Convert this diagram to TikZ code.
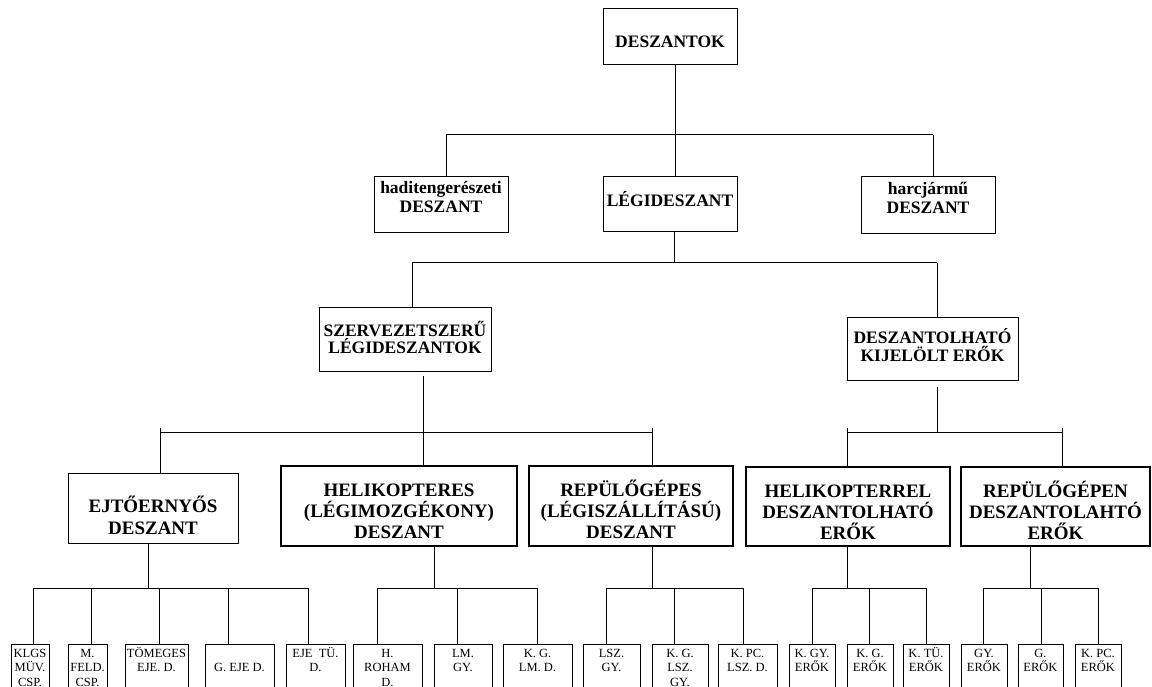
\documentclass[tikz,border=0pt]{standalone}
\usepackage{fontspec}
\setmainfont{Liberation Serif}
\newcommand{\padtop}[1]{\rule{0pt}{#1}}
\newcommand{\padbot}[1]{\rule[-#1]{0pt}{#1}}
\newcommand{\leafstrut}{\rule{0pt}{10.5pt}}

\begin{document}
\begin{tikzpicture}[x=1pt, y=-1pt, line width=1pt,
  box/.style={draw, align=center, inner sep=0pt,
    font=\bfseries\fontsize{17.5}{17.5}\selectfont},
  midbox/.style={box, font=\bfseries\fontsize{19}{22}\selectfont},
  bigbox/.style={box, line width=2.2pt, font=\bfseries\fontsize{19}{21}\selectfont},
  leaf/.style={draw, align=center, anchor=north, inner xsep=0pt, inner ysep=0pt,
    minimum height=44pt, font=\fontsize{12.5}{14.5}\selectfont}]
 \useasboundingbox (0,0) rectangle (1152,687);
 \clip (0,0) rectangle (1152,687);

 % levels 1-3
 \node (deszantok) [box, minimum width=134pt, minimum height=56pt] at (670,37) {\padtop{22pt}DESZANTOK};
 \node (hadi) [box, minimum width=134pt, minimum height=56pt, font=\bfseries\fontsize{17.5}{19}\selectfont]
   at (441,205) {\padtop{14pt}haditengerészeti\\DESZANT\padbot{17pt}};
 \node (legi) [box, minimum width=134pt, minimum height=55pt] at (670,204.5) {\padtop{16pt}LÉGIDESZANT\padbot{11pt}};
 \node (harc) [box, minimum width=134pt, minimum height=57pt, font=\bfseries\fontsize{17.5}{19}\selectfont]
   at (928,205.5) {\padtop{14pt}harcjármű\\DESZANT\padbot{17pt}};
 \node (szerv) [box, minimum width=172pt, minimum height=63pt] at (405,339.5) {\padtop{15.5pt}SZERVEZETSZERŰ\\LÉGIDESZANTOK\padbot{5pt}};
 \node (deszkij) [box, minimum width=171pt, minimum height=63pt, font=\bfseries\fontsize{17.5}{17.7}\selectfont]
   at (932.5,348.5) {\padtop{15.5pt}DESZANTOLHATÓ\\KIJELÖLT ERŐK\padbot{7pt}};

 % level 4
 \node (ejto) [midbox, minimum width=170pt, minimum height=70pt] at (153,508) {\padtop{32pt}EJTŐERNYŐS\\DESZANT};
 \node (heli) [bigbox, minimum width=236pt, minimum height=80pt] at (399,506) {\padtop{24pt}HELIKOPTERES\\(LÉGIMOZGÉKONY)\\DESZANT};
 \node (repu) [bigbox, minimum width=204pt, minimum height=80pt] at (631,506) {\padtop{24pt}REPÜLŐGÉPES\\(LÉGISZÁLLÍTÁSÚ)\\DESZANT};
 \node (helier) [bigbox, minimum width=204pt, minimum height=79pt] at (848,506.5) {\padtop{24pt}HELIKOPTERREL\\DESZANTOLHATÓ\\ERŐK};
 \node (repuen) [bigbox, minimum width=189pt, minimum height=79pt] at (1055.5,506.5) {\padtop{24pt}REPÜLŐGÉPEN\\DESZANTOLAHTÓ\\ERŐK};

 % level 5
 \node (kl) [leaf, minimum width=38pt] at (30,644) {\leafstrut KLGS\\MÜV.\\CSP.};
 \node (mf) [leaf, minimum width=39pt] at (87.5,644) {\leafstrut M.\\FELD.\\CSP.};
 \node (tom) [leaf, minimum width=63pt] at (156.5,644) {\leafstrut TÖMEGES\\EJE. D.\\\mbox{}};
 \node (geje) [leaf, minimum width=69pt] at (239.5,644) {\leafstrut\\G. EJE D.\\\mbox{}};
 \node (ejetu) [leaf, minimum width=59pt] at (315.5,644) {\leafstrut EJE~~TÜ.\\D.\\\mbox{}};
 \node (hroham) [leaf, minimum width=69pt] at (387.5,644) {\leafstrut H.\\ROHAM\\D.};
 \node (lmgy) [leaf, minimum width=58pt] at (463,644) {\leafstrut LM.\\GY.\\\mbox{}};
 \node (kglmd) [leaf, minimum width=69pt] at (537.5,644) {\leafstrut K. G.\\LM. D.\\\mbox{}};
 \node (lszgy) [leaf, minimum width=57pt] at (611.5,644) {\leafstrut LSZ.\\GY.\\\mbox{}};
 \node (kglszgy) [leaf, minimum width=56pt] at (680,644) {\leafstrut K. G.\\LSZ.\\GY.};
 \node (kpclszd) [leaf, minimum width=59pt] at (747.5,644) {\leafstrut K. PC.\\LSZ. D.\\\mbox{}};
 \node (kgy) [leaf, minimum width=46pt] at (812,644) {\leafstrut K. GY.\\ERŐK\\\mbox{}};
 \node (kg) [leaf, minimum width=46pt] at (870,644) {\leafstrut K. G.\\ERŐK\\\mbox{}};
 \node (ktu) [leaf, minimum width=46pt] at (926,644) {\leafstrut K. TÜ.\\ERŐK\\\mbox{}};
 \node (gy) [leaf, minimum width=46pt] at (984,644) {\leafstrut GY.\\ERŐK\\\mbox{}};
 \node (g) [leaf, minimum width=45pt] at (1040.5,644) {\leafstrut G.\\ERŐK\\\mbox{}};
 \node (kpc) [leaf, minimum width=46pt] at (1098,644) {\leafstrut K. PC.\\ERŐK\\\mbox{}};

 % DESZANTOK
 \coordinate (s-deszantok) at (675,135);
 \draw (deszantok.south -| s-deszantok) -- (s-deszantok);
 \foreach \n/\x in {hadi/446, legi/675, harc/933} {
   \coordinate (j-\n) at (\x,135);
   \draw (j-\n) -- (\n.north -| j-\n);
 }
 \draw (j-hadi) -- (j-harc);

 % LEGIDESZANT
 \coordinate (s-legi) at (674,263);
 \draw (legi.south -| s-legi) -- (s-legi);
 \foreach \n/\x in {szerv/412, deszkij/937} {
   \coordinate (j-\n) at (\x,263);
   \draw (j-\n) -- (\n.north -| j-\n);
 }
 \draw (j-szerv) -- (j-deszkij);

 % SZERVEZETSZERU
 \coordinate (s-szerv) at (423,432);
 \draw ([yshift=-4pt]szerv.south -| s-szerv) -- (s-szerv);
 \foreach \n/\x in {ejto/160, heli/423, repu/652} {
   \coordinate (j-\n) at (\x,432);
   \draw ([yshift=4pt]j-\n) -- (\n.north -| j-\n);
 }
 \draw (j-ejto) -- (j-repu);

 % DESZANTOLHATO
 \coordinate (s-deszkij) at (937,432);
 \draw ([yshift=-6pt]deszkij.south -| s-deszkij) -- (s-deszkij);
 \foreach \n/\x in {helier/847, repuen/1062} {
   \coordinate (j-\n) at (\x,432);
   \draw ([yshift=4pt]j-\n) -- (\n.north -| j-\n);
 }
 \draw (j-helier) -- (j-repuen);

 % level 4 -> level 5
 \foreach \p/\sx/\first/\last/\list in {
     ejto/148/kl/ejetu/{kl/33, mf/91, tom/159, geje/228, ejetu/308},
     heli/434/hroham/kglmd/{hroham/377, lmgy/457, kglmd/537},
     repu/652/lszgy/kpclszd/{lszgy/606, kglszgy/674, kpclszd/743},
     helier/847/kgy/ktu/{kgy/812, kg/869, ktu/926},
     repuen/1030/gy/kpc/{gy/983, g/1041, kpc/1098}} {
   \coordinate (s-\p) at (\sx,588);
   \draw (\p.south -| s-\p) -- (s-\p);
   \foreach \n/\x in \list {
     \coordinate (j-\n) at (\x,588);
     \draw (j-\n) -- (\n.north -| j-\n);
   }
   \draw (j-\first) -- (j-\last);
 }
\end{tikzpicture}
\end{document}
